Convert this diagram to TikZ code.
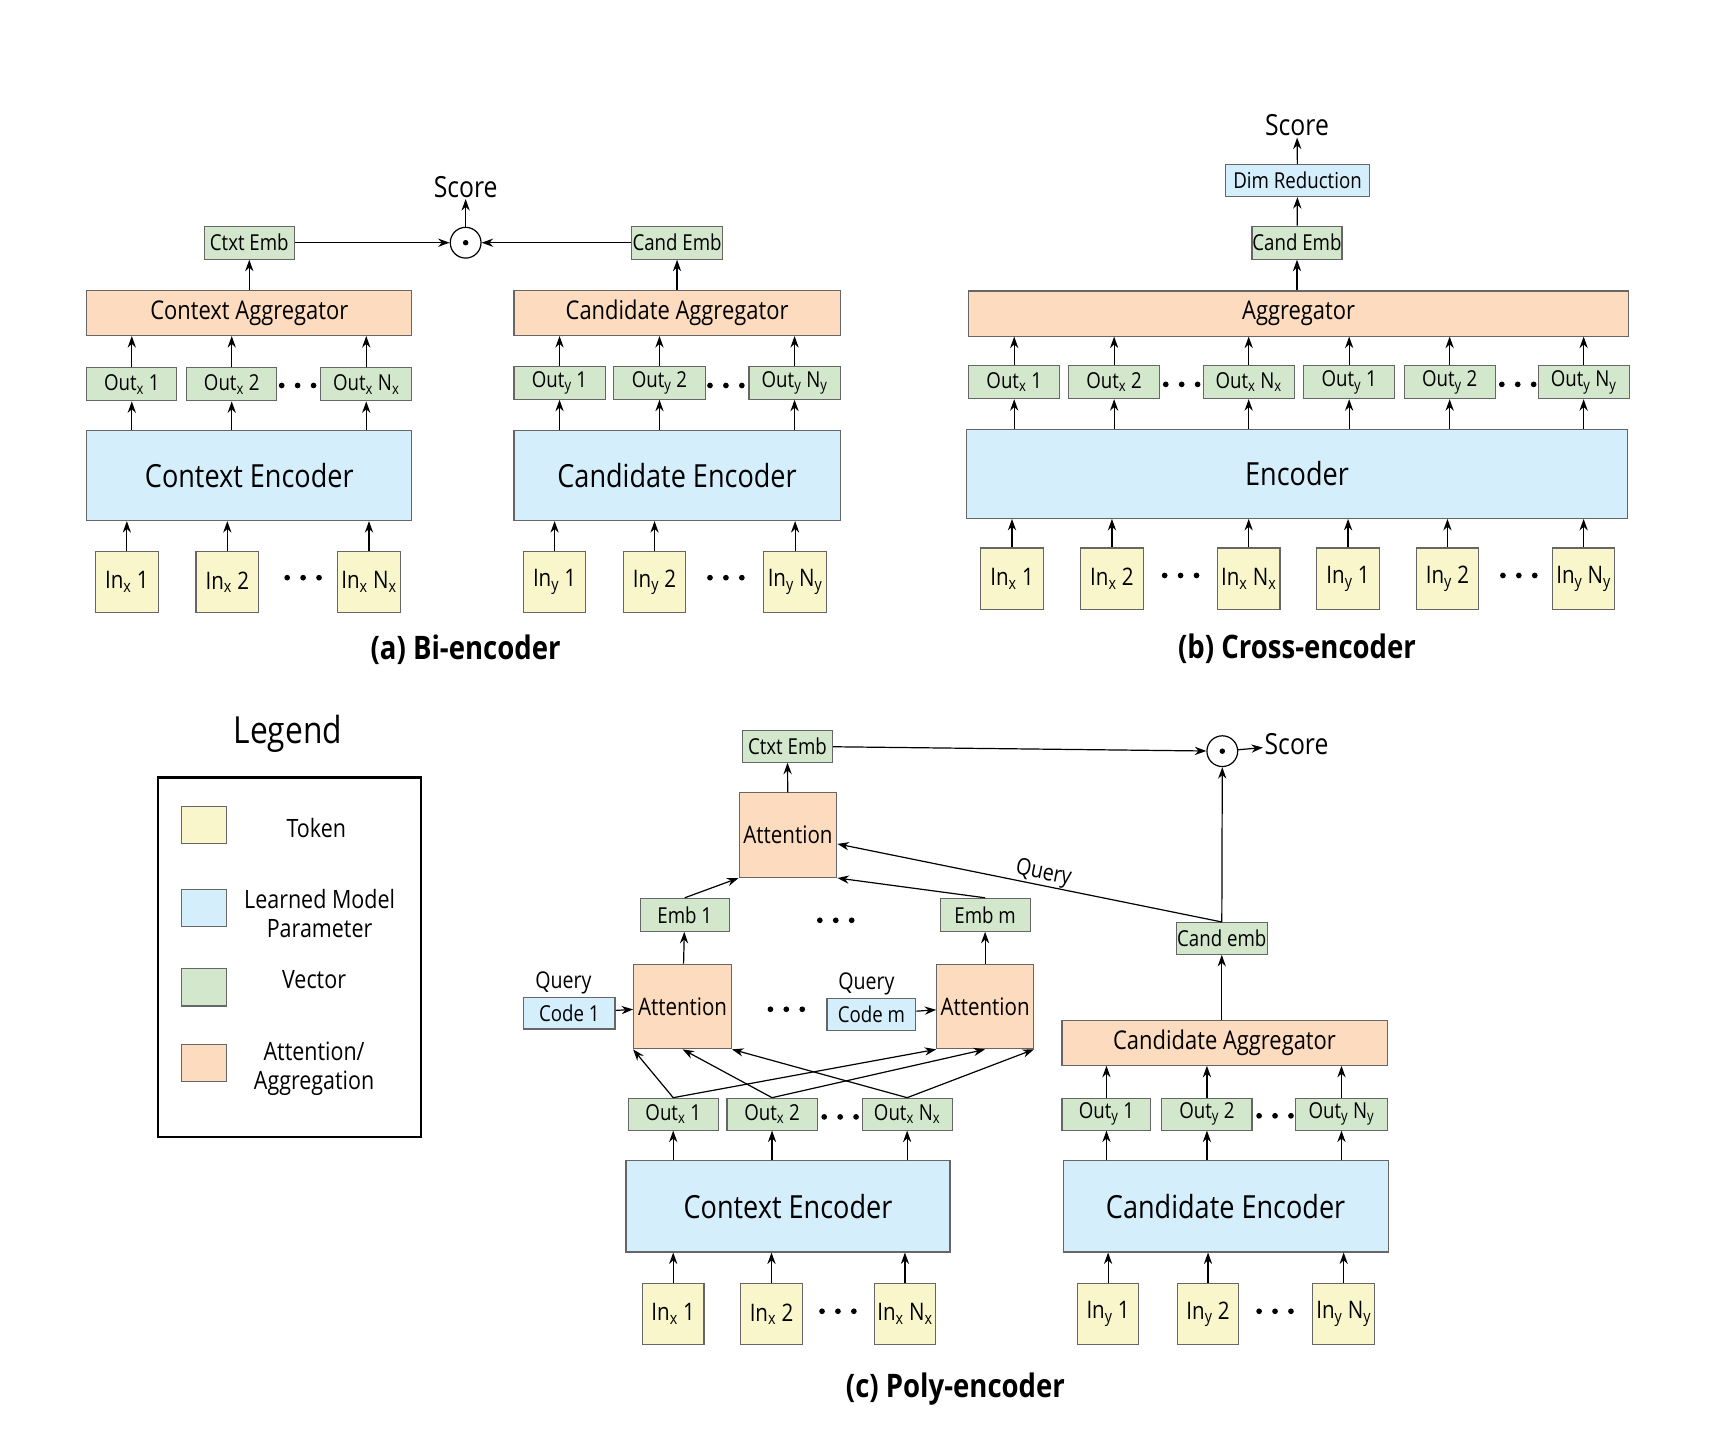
\documentclass[tikz,border=0pt]{standalone}
\usepackage{fontspec}
\setmainfont{Open Sans}[FakeStretch=0.85]
\usepackage{tikz}
\usetikzlibrary{arrows.meta}

\definecolor{tokfill}{HTML}{F8F6CA}
\definecolor{parfill}{HTML}{D4EEFB}
\definecolor{vecfill}{HTML}{D2E7CB}
\definecolor{attfill}{HTML}{FDDBBE}

\begin{document}
\begin{tikzpicture}[x=1pt,y=-1pt,line width=1.1pt,>={Stealth[length=10.5pt,width=7.5pt]},
    box/.style={draw=black!60, line width=1pt, inner sep=0pt},
    token/.style={box, fill=tokfill, minimum width=57pt, minimum height=56pt, font=\fontsize{22}{26}\selectfont},
    vec/.style={box, fill=vecfill, minimum width=82pt, minimum height=30pt, font=\fontsize{20}{24}\selectfont},
    agg/.style={box, fill=attfill, minimum height=41pt, font=\fontsize{23.5}{28}\selectfont},
    enc/.style={box, fill=parfill, minimum height=82pt, font=\fontsize{29}{34}\selectfont},
    attn/.style={box, fill=attfill, minimum width=89pt, minimum height=77pt, font=\fontsize{22}{26}\selectfont},
    code/.style={box, fill=parfill, minimum width=83pt, minimum height=29pt, font=\fontsize{20}{24}\selectfont},
    dotprod/.style={draw, circle, minimum size=28pt, inner sep=0pt,
        path picture={\fill (path picture bounding box.center) circle (2.5pt);}},
    dots/.style={minimum width=36pt, minimum height=8pt, inner sep=0pt,
        path picture={\fill ([xshift=-14.5pt]path picture bounding box.center) circle (2.6pt);
                      \fill (path picture bounding box.center) circle (2.6pt);
                      \fill ([xshift=14.5pt]path picture bounding box.center) circle (2.6pt);}},
    score/.style={font=\fontsize{26.5}{30}\selectfont, inner sep=1pt},
    query/.style={font=\fontsize{21}{24}\selectfont, inner sep=1pt},
    caption/.style={font=\fontsize{29.5}{34}\selectfont\bfseries},
    legtext/.style={font=\fontsize{23}{26}\selectfont, align=center},
    swatch/.style={box, minimum width=41pt, minimum height=34pt}]
\useasboundingbox (0,0) rectangle (1568,1311);

% (a) bi-encoder
\node[score] (a_score) at (424,170) {Score};
\node[dotprod] (a_dot) at (424,221) {};
\node[vec] (a_ctxemb) at (227,221) {Ctxt Emb};
\node[vec, minimum width=83pt] (a_candemb) at (616.5,221) {Cand Emb};
\node[agg, minimum width=296pt] (a_ctxagg) at (227,285) {Context Aggregator};
\node[agg, minimum width=297pt] (a_candagg) at (616.5,285) {Candidate Aggregator};
\node[vec] (a_out1) at (120,350) {Out\textsubscript{x} 1};
\node[vec] (a_out2) at (211,350) {Out\textsubscript{x} 2};
\node[dots] (a_dots1) at (271,351) {};
\node[vec, minimum width=83pt] (a_outN) at (333.5,350) {Out\textsubscript{x} N\textsubscript{x}};
\node[vec, minimum width=83pt] (a_outy1) at (509.5,348.5) {Out\textsubscript{y} 1};
\node[vec, minimum width=83pt] (a_outy2) at (600.5,348.5) {Out\textsubscript{y} 2};
\node[dots] (a_dots2) at (661,351) {};
\node[vec, minimum width=83pt] (a_outyN) at (723.5,348.5) {Out\textsubscript{y} N\textsubscript{y}};
\node[enc, minimum width=296pt] (a_ctxenc) at (227,433) {Context Encoder};
\node[enc, minimum width=297pt] (a_candenc) at (616.5,433) {Candidate Encoder};
\node[token] (a_in1) at (115.5,530) {In\textsubscript{x} 1};
\node[token] (a_in2) at (207,530) {In\textsubscript{x} 2};
\node[dots] (a_dots3) at (276,526) {};
\node[token] (a_inN) at (336,530) {In\textsubscript{x} N\textsubscript{x}};
\node[token] (a_iny1) at (505,530) {In\textsubscript{y} 1};
\node[token] (a_iny2) at (596,530) {In\textsubscript{y} 2};
\node[dots] (a_dots4) at (661,526) {};
\node[token] (a_inyN) at (724,530) {In\textsubscript{y} N\textsubscript{y}};
\node[caption] (a_cap) at (424,592) {(a) Bi-encoder};

\path[->]
    (a_ctxemb) edge (a_dot)
    (a_candemb) edge (a_dot)
    (a_dot) edge (a_score)
    (a_ctxagg) edge (a_ctxemb)
    (a_candagg) edge (a_candemb)
    (a_out1) edge (a_out1 |- a_ctxagg.south)
    (a_out2) edge (a_out2 |- a_ctxagg.south)
    (a_outN) edge (a_outN |- a_ctxagg.south)
    (a_outy1) edge (a_outy1 |- a_candagg.south)
    (a_outy2) edge (a_outy2 |- a_candagg.south)
    (a_outyN) edge (a_outyN |- a_candagg.south)
    (a_ctxenc.north -| a_out1) edge (a_out1)
    (a_ctxenc.north -| a_out2) edge (a_out2)
    (a_ctxenc.north -| a_outN) edge (a_outN)
    (a_candenc.north -| a_outy1) edge (a_outy1)
    (a_candenc.north -| a_outy2) edge (a_outy2)
    (a_candenc.north -| a_outyN) edge (a_outyN)
    (a_in1) edge (a_in1 |- a_ctxenc.south)
    (a_in2) edge (a_in2 |- a_ctxenc.south)
    (a_inN) edge (a_inN |- a_ctxenc.south)
    (a_iny1) edge (a_iny1 |- a_candenc.south)
    (a_iny2) edge (a_iny2 |- a_candenc.south)
    (a_inyN) edge (a_inyN |- a_candenc.south);

% (b) cross-encoder
\node[score] (b_score) at (1181,114) {Score};
\node[code, minimum width=131pt] (b_dim) at (1181.5,164.5) {Dim Reduction};
\node[vec] (b_candemb) at (1181,221) {Cand Emb};
\node[agg, minimum width=601pt] (b_agg) at (1182.5,285.5) {Aggregator};
\node[vec, minimum width=83pt] (b_out1) at (923.5,348) {Out\textsubscript{x} 1};
\node[vec, minimum width=83pt] (b_out2) at (1014.5,348) {Out\textsubscript{x} 2};
\node[dots] (b_dots1) at (1076,350) {};
\node[vec, minimum width=83pt] (b_outN) at (1137,348) {Out\textsubscript{x} N\textsubscript{x}};
\node[vec, minimum width=83pt] (b_outy1) at (1228.5,348) {Out\textsubscript{y} 1};
\node[vec, minimum width=83pt] (b_outy2) at (1320,348) {Out\textsubscript{y} 2};
\node[dots] (b_dots2) at (1382,350) {};
\node[vec, minimum width=83pt] (b_outyN) at (1442,348) {Out\textsubscript{y} N\textsubscript{y}};
\node[enc, minimum width=602pt, minimum height=81pt] (b_enc) at (1181,431.5) {Encoder};
\node[token] (b_in1) at (921.5,527) {In\textsubscript{x} 1};
\node[token] (b_in2) at (1012.5,527) {In\textsubscript{x} 2};
\node[dots] (b_dots3) at (1075,524) {};
\node[token] (b_inN) at (1137,527) {In\textsubscript{x} N\textsubscript{x}};
\node[token] (b_iny1) at (1227.5,527) {In\textsubscript{y} 1};
\node[token] (b_iny2) at (1318,527) {In\textsubscript{y} 2};
\node[dots] (b_dots4) at (1383,524) {};
\node[token] (b_inyN) at (1442,527) {In\textsubscript{y} N\textsubscript{y}};
\node[caption] (b_cap) at (1181,591) {(b) Cross-encoder};

\path[->]
    (b_dim) edge (b_score)
    (b_candemb) edge (b_dim)
    (b_agg.north -| b_candemb) edge (b_candemb)
    (b_out1) edge (b_out1 |- b_agg.south)
    (b_out2) edge (b_out2 |- b_agg.south)
    (b_outN) edge (b_outN |- b_agg.south)
    (b_outy1) edge (b_outy1 |- b_agg.south)
    (b_outy2) edge (b_outy2 |- b_agg.south)
    (b_outyN) edge (b_outyN |- b_agg.south)
    (b_enc.north -| b_out1) edge (b_out1)
    (b_enc.north -| b_out2) edge (b_out2)
    (b_enc.north -| b_outN) edge (b_outN)
    (b_enc.north -| b_outy1) edge (b_outy1)
    (b_enc.north -| b_outy2) edge (b_outy2)
    (b_enc.north -| b_outyN) edge (b_outyN)
    (b_in1) edge (b_in1 |- b_enc.south)
    (b_in2) edge (b_in2 |- b_enc.south)
    (b_inN) edge (b_inN |- b_enc.south)
    (b_iny1) edge (b_iny1 |- b_enc.south)
    (b_iny2) edge (b_iny2 |- b_enc.south)
    (b_inyN) edge (b_inyN |- b_enc.south);

% legend
\node[font=\fontsize{34}{40}\selectfont] (leg_title) at (262,668) {Legend};
\node[draw, line width=2pt, minimum width=239pt, minimum height=327pt] (leg_box) at (263.5,871.5) {};
\node[swatch, fill=tokfill] (leg_tok) at (185.5,751) {};
\node[swatch, fill=parfill] (leg_par) at (185.5,827) {};
\node[swatch, fill=vecfill] (leg_vec) at (185.5,899) {};
\node[swatch, fill=attfill] (leg_att) at (185.5,968) {};
\node[legtext] (leg_toklbl) at (288,754) {Token};
\node[legtext] (leg_parlbl) at (291,832) {Learned Model\\Parameter};
\node[legtext] (leg_veclbl) at (286,892) {Vector};
\node[legtext] (leg_attlbl) at (286,973) {Attention/\\Aggregation};

% (c) poly-encoder
\node[vec, minimum height=29pt] (c_ctxemb) at (717,679.5) {Ctxt Emb};
\node[dotprod] (c_dot) at (1113,684) {};
\node[score, anchor=west] (c_score) at (1150,678) {Score};
\node[attn] (c_att) at (717.5,760.5) {Attention};
\node[vec, minimum width=81pt] (c_emb1) at (623.5,833) {Emb 1};
\node[dots] (c_dots1) at (761,838) {};
\node[vec] (c_embm) at (897,833) {Emb m};
\node[query] (c_q1) at (513,895) {Query};
\node[code] (c_code1) at (518.5,922.5) {Code 1};
\node[attn] (c_att1) at (621.5,916.5) {Attention};
\node[dots] (c_dots2) at (716,919) {};
\node[query] (c_qm) at (789,896) {Query};
\node[code, minimum width=81pt] (c_codem) at (793.5,923.5) {Code m};
\node[attn, minimum width=88pt] (c_attm) at (897,916.5) {Attention};
\node[vec, minimum height=29pt] (c_out1) at (613,1014.5) {Out\textsubscript{x} 1};
\node[vec, minimum height=29pt] (c_out2) at (703,1014.5) {Out\textsubscript{x} 2};
\node[dots] (c_dots3) at (765,1017) {};
\node[vec, minimum height=29pt] (c_outN) at (826,1014.5) {Out\textsubscript{x} N\textsubscript{x}};
\node[enc, minimum width=295pt, minimum height=83pt] (c_ctxenc) at (717.5,1098.5) {Context Encoder};
\node[token, minimum width=56pt, minimum height=55pt] (c_in1) at (613,1196.5) {In\textsubscript{x} 1};
\node[token, minimum width=56pt, minimum height=55pt] (c_in2) at (702.5,1196.5) {In\textsubscript{x} 2};
\node[dots] (c_dots4) at (763,1194) {};
\node[token, minimum width=56pt, minimum height=55pt] (c_inN) at (824,1196.5) {In\textsubscript{x} N\textsubscript{x}};
\node[vec, minimum width=83pt, minimum height=29pt] (c_candemb) at (1112.5,854.5) {Cand emb};
\node[agg, minimum width=296pt] (c_candagg) at (1115,949.5) {Candidate Aggregator};
\node[vec, minimum width=81pt, minimum height=29pt] (c_outy1) at (1007.5,1014.5) {Out\textsubscript{y} 1};
\node[vec, minimum height=29pt] (c_outy2) at (1099,1014.5) {Out\textsubscript{y} 2};
\node[dots] (c_dots5) at (1161,1016) {};
\node[vec, minimum width=83pt, minimum height=29pt] (c_outyN) at (1221.5,1014.5) {Out\textsubscript{y} N\textsubscript{y}};
\node[enc, minimum width=296pt, minimum height=83pt] (c_candenc) at (1116,1098.5) {Candidate Encoder};
\node[token, minimum width=56pt, minimum height=55pt] (c_iny1) at (1009,1196.5) {In\textsubscript{y} 1};
\node[token, minimum width=56pt, minimum height=55pt] (c_iny2) at (1100,1196.5) {In\textsubscript{y} 2};
\node[dots] (c_dots6) at (1161,1194) {};
\node[token, minimum width=56pt, minimum height=55pt] (c_inyN) at (1223.5,1196.5) {In\textsubscript{y} N\textsubscript{y}};
\node[caption] (c_cap) at (870,1265) {(c) Poly-encoder};

\path[->]
    (c_ctxemb) edge (c_dot)
    (c_dot) edge (c_score)
    (c_candemb) edge (c_dot)
    (c_candemb.north) edge node[query, sloped, above, inner sep=0pt, pos=0.47] {Query} (c_att.-10)
    (c_att) edge (c_ctxemb)
    (c_emb1.north) edge (c_att.south west)
    (c_embm.north) edge (c_att.south east)
    (c_att1) edge (c_emb1)
    (c_attm) edge (c_embm)
    (c_code1) edge (c_att1)
    (c_codem) edge (c_attm)
    (c_out1.north) edge (c_att1.south west)
    (c_out1.north) edge (c_attm.south west)
    (c_out2.north) edge (c_att1.south)
    (c_out2.north) edge (c_attm.south)
    (c_outN.north) edge (c_att1.south east)
    (c_outN.north) edge (c_attm.south east)
    (c_ctxenc.north -| c_out1) edge (c_out1)
    (c_ctxenc.north -| c_out2) edge (c_out2)
    (c_ctxenc.north -| c_outN) edge (c_outN)
    (c_in1) edge (c_in1 |- c_ctxenc.south)
    (c_in2) edge (c_in2 |- c_ctxenc.south)
    (c_inN) edge (c_inN |- c_ctxenc.south)
    (c_candagg.north -| c_candemb) edge (c_candemb)
    (c_outy1) edge (c_outy1 |- c_candagg.south)
    (c_outy2) edge (c_outy2 |- c_candagg.south)
    (c_outyN) edge (c_outyN |- c_candagg.south)
    (c_candenc.north -| c_outy1) edge (c_outy1)
    (c_candenc.north -| c_outy2) edge (c_outy2)
    (c_candenc.north -| c_outyN) edge (c_outyN)
    (c_iny1) edge (c_iny1 |- c_candenc.south)
    (c_iny2) edge (c_iny2 |- c_candenc.south)
    (c_inyN) edge (c_inyN |- c_candenc.south);
\end{tikzpicture}
\end{document}
